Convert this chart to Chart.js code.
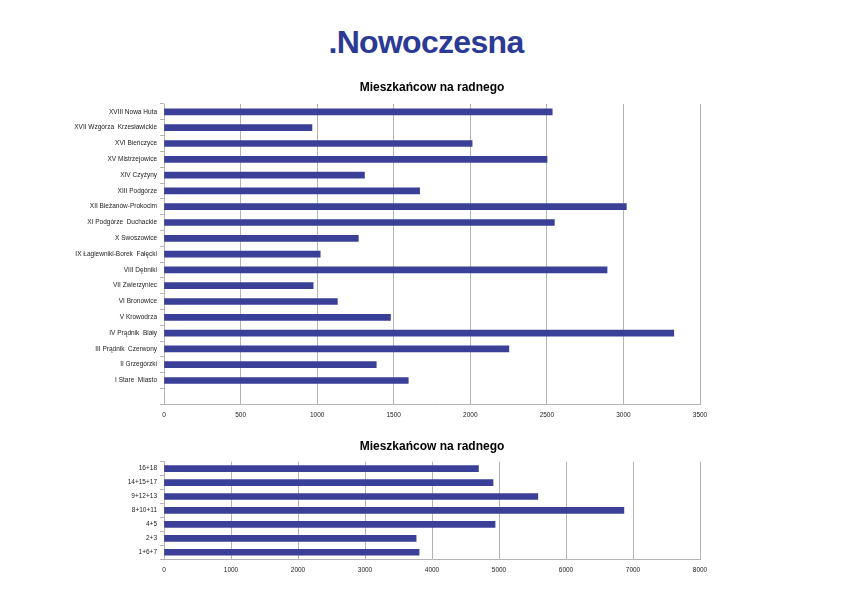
<!DOCTYPE html>
<html>
<head>
<meta charset="utf-8">
<script src="https://cdn.jsdelivr.net/npm/chart.js@4/dist/chart.umd.min.js"></script>
<style>
  body { margin: 0; background: #fff; width: 852px; height: 603px; position: relative; overflow: hidden; }
  #logo { position: absolute; left: 0; width: 852px; top: 22px; text-align: center;
          font-family: "Liberation Sans", Arial, sans-serif; font-weight: bold; font-size: 32px;
          letter-spacing: -0.7px; color: #2b3a94; line-height: 40px; }
  .box { position: absolute; left: 0; width: 852px; }
</style>
</head>
<body>
<div id="logo">.Nowoczesna</div>
<div class="box" style="top:78px;height:348px"><canvas id="DistrictChart"></canvas></div>
<div class="box" style="top:437px;height:144px"><canvas id="GroupChart"></canvas></div>
<script>
// Chart 1 - dzielnice (empty last row as in the original sheet)
var districts = ["XVIII Nowa Huta", "XVII Wzgórza  Krzesławickie", "XVI Bieńczyce", "XV Mistrzejowice",
  "XIV Czyżyny", "XIII Podgórze", "XII Bieżanów-Prokocim", "XI Podgórze  Duchackie", "X Swoszowice",
  "IX Łagiewniki-Borek  Fałęcki", "VIII Dębniki", "VII Zwierzyniec", "VI Bronowice", "V Krowodrza",
  "IV Prądnik  Biały", "III Prądnik  Czerwony", "II Grzegórzki", "I Stare  Miasto", ""];
var districtValues = [2535, 966, 2012, 2501, 1309, 1669, 3019, 2549, 1269, 1020, 2893, 974, 1132, 1479,
  3329, 2252, 1386, 1595, null];

// Chart 2 - okręgi
var groups = ["16+18", "14+15+17", "9+12+13", "8+10+11", "4+5", "2+3", "1+6+7"];
var groupValues = [4693, 4911, 5579, 6864, 4941, 3763, 3807];

var chartTitle = "Mieszkańcow na radnego";
var barColor = "#3a3f97";
var gridColor = "#b4b4b4";
var tickFont = { family: "'Liberation Sans', Arial, sans-serif", size: 6.5 };

function makeChart(id, labels, values, xMax, step, padBottom) {
  return new Chart(document.getElementById(id), {
    type: 'bar',
    data: {
      labels: labels,
      datasets: [{
        data: values,
        backgroundColor: barColor,
        barThickness: 6
      }]
    },
    options: {
      indexAxis: 'y',
      responsive: true,
      maintainAspectRatio: false,
      animation: false,
      layout: { padding: { left: 0, right: 152, top: 0, bottom: 0 } },
      plugins: {
        legend: { display: false },
        tooltip: { enabled: false },
        title: {
          display: true,
          fullSize: false,   // centre over the plot area
          text: chartTitle,
          color: '#000',
          font: { family: "'Liberation Sans', Arial, sans-serif", size: 12, weight: 'bold' },
          padding: { top: 2.8, bottom: padBottom }
        }
      },
      scales: {
        x: {
          min: 0,
          max: xMax,
          ticks: {
            stepSize: step, color: '#222', font: tickFont, padding: 7,
            callback: function (v) { return String(v); }
          },
          grid: { color: gridColor, drawTicks: false },
          border: { color: gridColor }
        },
        y: {
          ticks: { color: '#222', font: tickFont, padding: 3, autoSkip: false },
          grid: { drawOnChartArea: false, offset: true, tickLength: 4, color: gridColor },
          border: { color: gridColor },
          afterFit: function (scale) { scale.width = 164; }
        }
      }
    }
  });
}

makeChart("DistrictChart", districts, districtValues, 3500, 500, 8.8);
makeChart("GroupChart", groups, groupValues, 8000, 1000, 7.5);
</script>
</body>
</html>
